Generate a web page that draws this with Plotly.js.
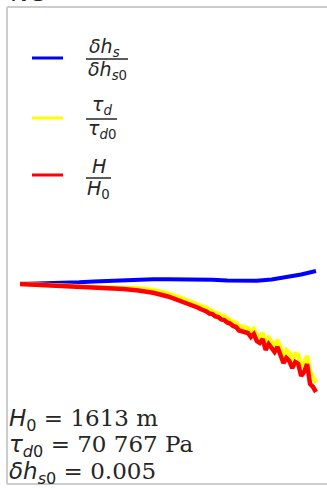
<!DOCTYPE html>
<html>
<head>
<meta charset="utf-8">
<script src="https://cdn.plot.ly/plotly-3.0.1.min.js"></script>
<style>
  html, body { margin: 0; padding: 0; background: #fff; }
  #chart { width: 327px; height: 489px; }
</style>
</head>
<body>
<div id="chart"></div>
<script>
// normalised time
let slopeTime = [0, 5, 10, 15, 20, 25, 30, 35, 40, 45, 50, 55, 60, 65, 70, 75, 80, 85, 90, 95, 100];
let slopeRatio = [1.000, 1.001, 1.0025, 1.005, 1.0085, 1.0125, 1.0165, 1.020, 1.0225, 1.0235, 1.024,
    1.024, 1.0235, 1.0215, 1.0175, 1.015, 1.016, 1.0225, 1.0325, 1.0475, 1.065];

let lossTime = [0, 5, 10, 15, 20, 25, 30, 35, 40, 45, 50, 55,
    60, 61, 62, 63, 64, 65, 66, 67, 68, 69, 70, 71, 72, 73, 74, 75, 76, 77, 78, 79,
    80, 81, 82, 83, 84, 85, 86, 87, 88, 89, 90, 91, 92, 93, 94, 95, 96, 97, 98, 99, 100];
let stressRatio = [1.0, 0.9975, 0.996, 0.9945, 0.9925, 0.99, 0.986, 0.981, 0.9775, 0.97, 0.9525, 0.9275,
    0.895, 0.89, 0.885, 0.8825, 0.87, 0.865, 0.855, 0.8525, 0.84, 0.84, 0.8275, 0.82, 0.81, 0.805,
    0.79, 0.7875, 0.78, 0.78, 0.76, 0.775, 0.745, 0.735, 0.755, 0.70, 0.73, 0.71, 0.69, 0.72, 0.68,
    0.64, 0.67, 0.655, 0.62, 0.65, 0.645, 0.585, 0.605, 0.64, 0.56, 0.535, 0.505];
let thickRatio = [1.0, 0.9965, 0.995, 0.9925, 0.99, 0.9865, 0.9815, 0.975, 0.9675, 0.9565, 0.9375, 0.9125,
    0.8825, 0.875, 0.87, 0.8625, 0.8525, 0.85, 0.8375, 0.835, 0.8225, 0.82, 0.8075, 0.8025, 0.79, 0.785,
    0.7675, 0.765, 0.7575, 0.755, 0.735, 0.75, 0.715, 0.705, 0.725, 0.67, 0.70, 0.68, 0.66, 0.685, 0.645,
    0.605, 0.63, 0.615, 0.58, 0.61, 0.60, 0.54, 0.56, 0.60, 0.50, 0.485, 0.46];

let W = 327, H = 489;
let sans = "DejaVu Sans", serif = "DejaVu Serif";
let ink = "#262626";

function px(x) { return x / W; }
function py(y) { return 1 - y / H; }

function label(text, x, y, size, anchor) {
    return {
        text: text, xref: "paper", yref: "paper", x: px(x), y: py(y),
        xanchor: anchor || "center", yanchor: "middle", showarrow: false,
        font: { family: sans, size: size, color: ink }
    };
}

function hline(x0, x1, y, color, width) {
    return {
        type: "line", xref: "paper", yref: "paper", x0: px(x0), x1: px(x1), y0: py(y), y1: py(y),
        line: { color: color, width: width }
    };
}

function vline(x, y0, y1, color, width) {
    return {
        type: "line", xref: "paper", yref: "paper", x0: px(x), x1: px(x), y0: py(y0), y1: py(y1),
        line: { color: color, width: width }
    };
}

let data = [
    { x: slopeTime, y: slopeRatio, type: "scatter", mode: "lines", line: { color: "#0000ff", width: 4 }, hoverinfo: "skip" },
    { x: lossTime, y: stressRatio, type: "scatter", mode: "lines", line: { color: "#ffff00", width: 4.5 }, hoverinfo: "skip" },
    { x: lossTime, y: thickRatio, type: "scatter", mode: "lines", line: { color: "#ff0000", width: 4.5 }, hoverinfo: "skip" }
];

let sv = function (t) { return '<span style="font-family:DejaVu Sans">' + t + '</span>'; };

let layout = {
    width: W, height: H,
    margin: { l: 0, r: 0, t: 0, b: 0 },
    paper_bgcolor: "#ffffff", plot_bgcolor: "#ffffff",
    showlegend: false,
    xaxis: { range: [-6.76, 103.72], visible: false, fixedrange: true },
    yaxis: { range: [-0.025, 2.42], visible: false, fixedrange: true },
    shapes: [
        vline(7, 7, 484, "#cccccc", 2),
        hline(7, 330, 7, "#cccccc", 2),
        hline(7, 330, 484, "#cccccc", 2),
        hline(32, 63, 58, "#0000ff", 3),
        hline(32, 63, 118, "#ffff00", 3),
        hline(32, 63, 175, "#ff0000", 3),
        hline(86, 128, 59, ink, 1.5),
        hline(86, 117, 119, ink, 1.5),
        hline(86, 111, 178, ink, 1.5)
    ],
    annotations: [
        label("NG", 8, -6.5, 24, "left"),
        label("<i>δh</i><sub><i>s</i></sub>", 104, 47, 19),
        label("<i>δh</i><sub><i>s</i>0</sub>", 107, 71, 19),
        label("<i>τ</i><sub><i>d</i></sub>", 102, 106, 19),
        label("<i>τ</i><sub><i>d</i>0</sub>", 101.5, 129, 19),
        label("<i>H</i>", 99, 166, 19),
        label("<i>H</i><sub>0</sub>", 98.5, 189, 19)
    ]
};

let notes = [
    [sv("<i>H</i><sub>0</sub>") + " = 1613 m", 420],
    [sv("<i>τ</i><sub><i>d</i>0</sub>") + " = 70 767 Pa", 446],
    [sv("<i>δh</i><sub><i>s</i>0</sub>") + " = 0.005", 473]
];
notes.forEach(function (n) {
    let a = label(n[0], 7, n[1], 23, "left");
    a.font.family = serif;
    layout.annotations.push(a);
});

Plotly.newPlot("chart", data, layout, { displayModeBar: false, staticPlot: true });
</script>
</body>
</html>
